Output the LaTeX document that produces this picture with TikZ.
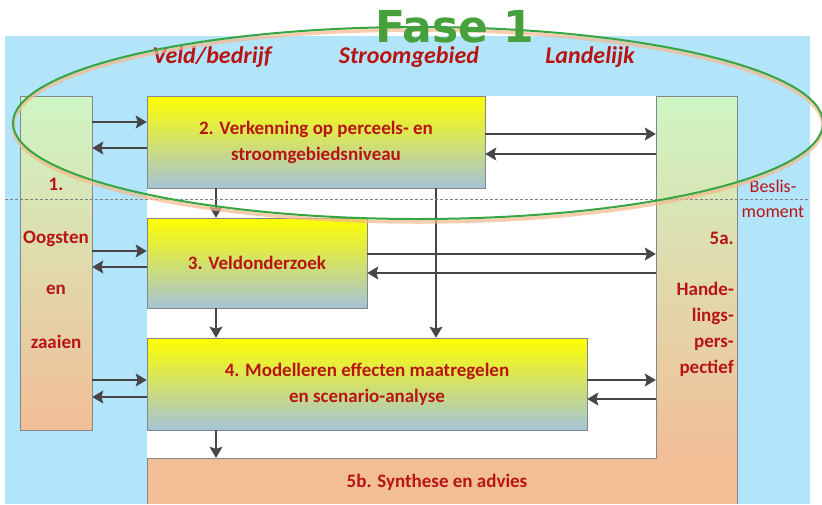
\documentclass[tikz,border=0pt]{standalone}
\usepackage{fontspec}
\setmainfont{Carlito}
\newfontfamily\fasefont{DejaVu Sans}
\usetikzlibrary{arrows.meta}
\definecolor{bgblue}{RGB}{178,228,250}
\definecolor{txtred}{RGB}{185,20,20}
\definecolor{boxgreen}{RGB}{206,246,196}
\definecolor{peach}{RGB}{242,190,150}
\definecolor{ygray}{RGB}{165,195,215}
\definecolor{ellgreen}{RGB}{55,165,65}
\definecolor{fasegreen}{RGB}{70,160,60}
\definecolor{shadoworange}{RGB}{245,185,140}
\definecolor{arrgray}{RGB}{70,70,70}
\definecolor{edgegray}{RGB}{130,135,140}
\begin{document}
\begin{tikzpicture}[x=1pt,y=-1pt,
  stepbox/.style={draw=edgegray, line width=0.6pt, top color=yellow, bottom color=ygray, inner sep=0pt, align=center, text=txtred, font=\fontsize{19}{26}\selectfont\bfseries},
  sidebox/.style={draw=edgegray, line width=0.6pt, top color=boxgreen, bottom color=peach, inner sep=0pt},
  lbl/.style={text=txtred, font=\fontsize{19}{26}\selectfont\bfseries, inner sep=0pt},
  head/.style={text=txtred, font=\fontsize{24}{28}\selectfont\bfseries\itshape, inner sep=0pt},
  arr/.style={draw=arrgray, line width=1.2pt, -{Stealth[length=11pt,width=13pt,inset=2pt]}},
]
\useasboundingbox (0,0) rectangle (822,504);
% background
\fill[bgblue] (5,36) rectangle (810,504);
\fill[white] (147,96) rectangle (656,458);
% side box 1
\node[sidebox, minimum width=72pt, minimum height=334pt] (b1) at (56,263) {};
% L-shaped 5a/5b
\fill[peach] (147,458) rectangle (737,504);
\shade[top color=boxgreen, bottom color=peach] (656,96) rectangle (737,458);
\draw[edgegray, line width=0.6pt] (147,504) -- (147,458) -- (656,458) -- (656,96) -- (737,96) -- (737,504);
\node[inner sep=0pt, minimum width=81pt, minimum height=408pt] (b5a) at (696.5,300) {};
\node[inner sep=0pt, minimum width=590pt, minimum height=46pt] (b5b) at (442,481) {};
% step boxes
\node[stepbox, minimum width=338pt, minimum height=92pt] (b2) at (316,142) {2. Verkenning op perceels- en\\stroomgebiedsniveau};
\node[stepbox, minimum width=220pt, minimum height=90pt] (b3) at (257,263) {3. Veldonderzoek};
\node[stepbox, minimum width=440pt, minimum height=92pt] (b4) at (367,384) {4. Modelleren effecten maatregelen\\en scenario-analyse};
% arrows
\draw[arr] (b1.east |- 0,122) -- (b2.west |- 0,122);
\draw[arr] (b2.west |- 0,148) -- (b1.east |- 0,148);
\draw[arr] (b2.east |- 0,134) -- (b5a.west |- 0,134);
\draw[arr] (b5a.west |- 0,154) -- (b2.east |- 0,154);
\draw[arr] (b2.south -| 216,0) -- (b3.north -| 216,0);
\draw[arr] (b2.south -| 436,0) -- (b4.north -| 436,0);
\draw[arr] (b1.east |- 0,251) -- (b3.west |- 0,251);
\draw[arr] (b3.west |- 0,267) -- (b1.east |- 0,267);
\draw[arr] (b3.east |- 0,254) -- (b5a.west |- 0,254);
\draw[arr] (b5a.west |- 0,273) -- (b3.east |- 0,273);
\draw[arr] (b3.south -| 216,0) -- (b4.north -| 216,0);
\draw[arr] (b1.east |- 0,380) -- (b4.west |- 0,380);
\draw[arr] (b4.west |- 0,397) -- (b1.east |- 0,397);
\draw[arr] (b4.east |- 0,380) -- (b5a.west |- 0,380);
\draw[arr] (b5a.west |- 0,399) -- (b4.east |- 0,399);
\draw[arr] (b4.south -| 216,0) -- (b5b.north -| 216,0);
% texts
\node[lbl] (t1) at (56,184) {1.};
\node[lbl] (t1b) at (56,239) {Oogsten};
\node[lbl] (t1c) at (56,290) {en};
\node[lbl] (t1d) at (56,342) {zaaien};
\node[lbl, anchor=east] (t5a) at (734,238) {5a.};
\node[lbl, anchor=east, align=right] (t5ab) at (734,329) {Hande-\\lings-\\pers-\\pectief};
\node[lbl] (t5b) at (437,482) {5b. Synthese en advies};
\node[head] (h1) at (212,57) {Veld/bedrijf};
\node[head] (h2) at (409,57) {Stroomgebied};
\node[head] (h3) at (590,57) {Landelijk};
% decision line
\coordinate (dl) at (5,199);
\coordinate (dr) at (810,199);
\draw[gray, line width=0.5pt, dash pattern=on 3pt off 2pt] (dl) -- (dr);
\node[text=txtred, align=center, inner sep=0pt, font=\fontsize{18}{25}\selectfont] (bes) at (773,199) {Beslis-\\moment};
% ellipse
\draw[shadoworange, line width=3.5pt, opacity=0.7] (418,126) ellipse [x radius=405pt, y radius=96pt];
\draw[ellgreen, line width=2pt] (418,123) ellipse [x radius=405pt, y radius=96pt];
\node[text=fasegreen, anchor=base, inner sep=0pt, font=\fasefont\bfseries\fontsize{44}{44}\selectfont] (fase) at (455,42) {Fase 1};
\end{tikzpicture}
\end{document}
